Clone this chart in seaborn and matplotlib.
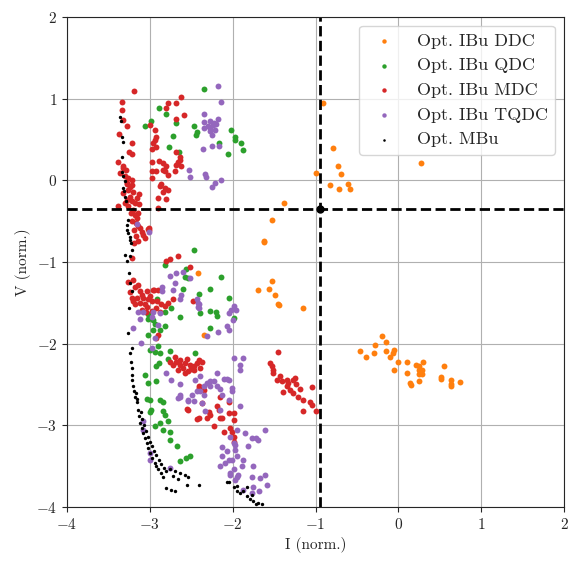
import matplotlib
matplotlib.use("Agg")
import matplotlib.pyplot as plt
import seaborn as sns
import pandas as pd

sns.set_style("ticks")
plt.rcParams['font.family'] = 'serif'
plt.rcParams['font.serif'] = ['cmr10']
plt.rcParams['mathtext.fontset'] = 'cm'
plt.rcParams['axes.formatter.use_mathtext'] = True
plt.rcParams['font.size'] = 11

# (I, V) pairs
ddc = [(-0.91, 0.95), (-0.79, 0.39), (-0.73, 0.18), (-0.69, 0.08), (-1.00, 0.09), (-0.83, -0.06),
       (-0.72, -0.11), (-0.61, -0.05), (-0.58, -0.11), (0.27, 0.205), (-1.38, -0.28), (-1.53, -0.485),
       (-1.62, -0.76), (-1.62, -0.74), (-1.53, -1.24), (-1.70, -1.35), (-1.56, -1.33), (-1.49, -1.40),
       (-1.45, -1.51), (-1.44, -1.53), (-1.15, -1.57), (-2.42, -1.13), (-2.35, -1.90),
       (-0.20, -1.905), (-0.15, -1.98), (-0.28, -2.02), (-0.46, -2.09), (-0.39, -2.16), (-0.30, -2.12),
       (-0.15, -2.09), (-0.05, -2.08), (-0.06, -2.12), (-0.10, -2.17), (-0.01, -2.23), (-0.05, -2.32),
       (0.10, -2.23), (0.11, -2.36), (0.14, -2.48), (0.15, -2.51), (0.21, -2.26), (0.25, -2.28),
       (0.30, -2.23), (0.25, -2.32), (0.25, -2.37), (0.29, -2.37), (0.25, -2.46), (0.29, -2.32),
       (0.545, -2.27), (0.51, -2.41), (0.51, -2.43), (0.63, -2.45), (0.63, -2.49), (0.63, -2.52),
       (0.75, -2.47)]

qdc = [(-2.35, 1.12), (-2.885, 0.89), (-2.99, 0.73), (-3.06, 0.665), (-2.80, 0.81), (-2.68, 0.70),
       (-2.72, 0.54), (-2.77, 0.41), (-2.65, 0.34), (-2.47, 0.665), (-2.43, 0.595), (-2.44, 0.555),
       (-2.16, 0.455), (-2.06, 0.32), (-2.02, 0.62), (-1.97, 0.535), (-1.97, 0.49), (-1.90, 0.46),
       (-1.87, 0.37),
       (-2.47, -0.85), (-2.82, -1.04), (-2.56, -1.09), (-2.57, -1.18), (-2.54, -1.20), (-2.14, -1.18),
       (-2.60, -1.33), (-2.41, -1.39), (-2.27, -1.33), (-2.04, -1.44), (-2.91, -1.46), (-2.74, -1.57),
       (-2.82, -1.61), (-2.39, -1.62), (-2.27, -1.60), (-2.20, -1.61), (-2.19, -1.66), (-2.64, -1.67),
       (-3.02, -1.64), (-3.02, -1.70), (-2.96, -1.71), (-2.94, -1.76), (-2.82, -1.78), (-2.88, -1.83),
       (-2.96, -1.83), (-3.02, -1.89), (-2.27, -1.81), (-1.99, -1.69), (-2.90, -2.03), (-3.00, -2.08),
       (-2.94, -2.10), (-2.88, -2.12), (-2.76, -2.09), (-2.46, -2.11), (-2.78, -2.19), (-2.89, -2.24),
       (-2.93, -2.27),
       (-3.06, -2.38), (-3.02, -2.48), (-2.92, -2.46), (-3.04, -2.68), (-3.00, -2.69), (-2.88, -2.69),
       (-2.84, -2.71), (-2.99, -2.81), (-3.00, -2.84), (-2.84, -2.83), (-2.82, -2.87), (-2.88, -2.97),
       (-2.94, -3.01), (-2.78, -2.95), (-2.84, -3.06), (-2.76, -3.08), (-2.76, -3.18), (-2.67, -3.25),
       (-2.64, -3.44), (-2.56, -3.40), (-2.52, -3.38)]

mdc = [(-3.19, 1.09), (-3.34, 0.96), (-3.34, 0.86), (-3.32, 0.74), (-3.27, 0.66), (-3.37, 0.57),
       (-3.22, 0.455), (-3.25, 0.34), (-3.21, 0.32), (-3.38, 0.22), (-3.33, 0.18), (-3.32, 0.15),
       (-3.36, 0.09), (-3.26, 0.025), (-3.22, 0.005), (-3.28, -0.035), (-3.24, -0.08), (-3.32, -0.16),
       (-3.20, -0.15), (-3.13, -0.17), (-3.28, -0.24), (-3.22, -0.26), (-3.18, -0.28), (-3.13, -0.29),
       (-3.39, -0.32), (-3.26, -0.32), (-3.20, -0.36), (-3.14, -0.40), (-3.15, -0.46), (-3.17, -0.525),
       (-3.12, -0.585), (-3.19, -0.61), (-3.08, -0.67), (-3.06, -0.71), (-3.01, -0.61), (-3.02, -0.60),
       (-3.19, -0.77), (-3.22, -0.95), (-3.27, -0.05), (-3.30, 0.05), (-3.24, -0.20), (-3.30, -0.28),
       (-3.18, -0.43), (-3.23, -0.40), (-3.29, 0.12), (-3.21, -0.06), (-3.26, -0.12), (-3.16, -0.22),
       (-3.21, -0.50), (-3.14, -0.56), (-3.10, -0.63), (-3.17, -0.68), (-3.14, -0.74),
       (-2.78, 0.95), (-2.80, 0.88), (-2.63, 1.02), (-2.68, 0.95), (-2.59, 0.80), (-2.68, 0.75),
       (-3.00, 0.68), (-2.94, 0.62), (-2.92, 0.535), (-2.94, 0.49), (-2.96, 0.455), (-2.92, 0.41),
       (-2.98, 0.38), (-2.68, 0.35), (-2.64, 0.29), (-2.97, 0.22), (-2.89, 0.23), (-2.84, 0.21),
       (-2.80, 0.17), (-2.64, 0.25), (-2.68, 0.19), (-2.63, 0.17), (-2.97, 0.11), (-2.92, 0.11),
       (-2.82, 0.11), (-2.78, 0.065), (-2.70, 0.11), (-2.97, 0.025), (-2.86, -0.045), (-2.82, -0.10),
       (-2.78, -0.12), (-2.84, -0.14), (-2.90, -0.22), (-2.80, -0.23), (-2.90, -0.34), (-3.01, -0.585),
       (-2.84, 0.13), (-2.88, -0.07), (-2.66, 0.22),
       (-2.76, -0.97), (-2.80, -0.995), (-2.66, -0.925), (-2.51, -1.06), (-2.72, -1.46), (-2.48, -1.48),
       (-2.93, -1.93), (-2.90, -1.89),
       (-3.20, -1.22), (-3.18, -1.31), (-3.24, -1.37), (-3.12, -1.36), (-3.03, -1.36), (-2.95, -1.34),
       (-2.90, -1.34), (-3.16, -1.44), (-3.08, -1.44), (-3.02, -1.46), (-3.12, -1.50), (-3.06, -1.52),
       (-2.98, -1.48), (-3.18, -1.52), (-3.05, -1.61), (-2.98, -1.60), (-2.92, -1.57), (-2.86, -1.52),
       (-2.82, -1.54), (-2.91, -1.48), (-3.22, -1.44), (-3.09, -1.59), (-2.88, -1.61), (-2.96, -1.34),
       (-3.14, -1.28), (-3.26, -1.25), (-3.10, -1.40), (-3.00, -1.42), (-3.20, -1.48), (-3.04, -1.55),
       (-2.78, -1.50),
       (-2.70, -2.16), (-2.64, -2.20), (-2.58, -2.24), (-2.51, -2.26), (-2.43, -2.24), (-2.37, -2.22),
       (-2.39, -2.30), (-2.47, -2.32), (-2.58, -2.36), (-2.66, -2.32), (-2.72, -2.26), (-2.76, -2.22),
       (-2.60, -2.30), (-2.54, -2.34), (-2.64, -2.26), (-2.68, -2.22), (-2.47, -2.28), (-2.41, -2.20),
       (-2.55, -2.19), (-2.50, -2.31),
       (-1.55, -2.24), (-1.45, -2.10), (-1.51, -2.32), (-1.43, -2.40), (-1.35, -2.44), (-1.27, -2.44),
       (-1.23, -2.50), (-1.31, -2.57), (-1.27, -2.61), (-1.21, -2.65), (-1.15, -2.69), (-1.045, -2.53),
       (-1.07, -2.71), (-1.045, -2.75), (-1.15, -2.83), (-0.99, -2.82), (-1.35, -2.52), (-1.39, -2.59),
       (-1.47, -2.44), (-1.51, -2.36), (-1.33, -2.48), (-1.25, -2.42), (-1.53, -2.28), (-1.41, -2.46),
       (-1.19, -2.56),
       (-2.15, -2.65), (-2.05, -2.71), (-1.99, -2.85), (-1.99, -2.93), (-2.03, -3.03), (-2.01, -3.08),
       (-1.99, -3.14), (-1.99, -3.20), (-2.11, -3.08), (-2.23, -3.01), (-2.27, -2.87), (-2.31, -2.91),
       (-2.15, -2.91), (-2.41, -2.91), (-2.54, -2.81), (-2.35, -2.57), (-2.41, -2.55), (-2.05, -2.85),
       (-2.19, -2.77), (-2.41, -2.52), (-2.37, -2.73), (-2.55, -2.80), (-2.43, -2.92), (-2.29, -2.84),
       (-2.16, -2.81), (-2.13, -2.91)]

tqdc = [(-2.18, 1.15), (-2.14, 0.96), (-2.35, 0.81), (-2.35, 0.71), (-2.27, 0.72), (-2.23, 0.70),
        (-2.18, 0.75), (-2.27, 0.64), (-2.35, 0.64), (-2.21, 0.62), (-2.27, 0.60), (-2.25, 0.555),
        (-2.25, 0.42), (-2.17, 0.42), (-2.36, 0.38), (-2.53, 0.13), (-2.52, 0.035), (-2.33, 0.08),
        (-2.32, 0.04), (-2.25, -0.08), (-2.21, -0.035), (-2.14, 0.0), (-2.24, 0.68), (-2.30, 0.66),
        (-2.20, 0.69), (-3.15, -0.54), (-3.01, -0.63),
        (-2.76, -1.17), (-2.68, -1.14), (-2.60, -1.12), (-2.52, -1.20), (-2.70, -1.26), (-2.85, -1.31),
        (-2.85, -1.36), (-2.72, -1.35), (-2.63, -1.41), (-2.64, -1.46), (-2.43, -1.46), (-2.41, -1.52),
        (-2.41, -1.57), (-3.14, -1.61), (-3.08, -1.61), (-2.96, -1.61), (-2.97, -1.67), (-2.88, -1.62),
        (-3.12, -1.70), (-3.20, -1.81), (-2.90, -1.77), (-3.11, -1.99), (-2.94, -1.93), (-2.97, -2.06),
        (-2.31, -1.91), (-2.18, -1.86), (-2.07, -1.79), (-2.05, -1.83), (-2.05, -1.62), (-2.02, -1.59),
        (-1.99, -1.54), (-1.96, -1.59), (-2.00, -1.71), (-2.42, -1.50), (-2.42, -1.55),
        (-1.98, -2.18), (-1.88, -2.18), (-1.91, -2.26), (-1.91, -2.32), (-2.19, -2.36), (-2.11, -2.43),
        (-2.04, -2.45), (-2.23, -2.46), (-2.31, -2.48), (-2.27, -2.52), (-2.19, -2.52), (-2.15, -2.56),
        (-2.35, -2.52), (-2.39, -2.58), (-2.43, -2.58), (-2.35, -2.63), (-2.49, -2.63), (-2.47, -2.70),
        (-2.64, -2.63), (-2.66, -2.67), (-2.54, -2.70), (-2.37, -2.73), (-2.33, -2.83), (-2.15, -2.81),
        (-2.01, -2.58), (-2.01, -2.54), (-2.13, -2.63), (-2.80, -2.36), (-2.75, -2.45), (-2.64, -2.50),
        (-2.64, -2.65), (-2.54, -2.69), (-2.27, -2.46), (-2.07, -2.43), (-2.05, -2.69), (-1.91, -2.77),
        (-3.08, -2.95), (-3.08, -3.06), (-3.00, -3.34), (-3.00, -3.42), (-2.76, -3.52), (-2.45, -2.45),
        (-2.40, -2.40),
        (-2.13, -3.27), (-2.13, -3.38), (-2.07, -3.32), (-2.15, -3.50), (-2.01, -3.42), (-1.97, -3.30),
        (-1.99, -3.22), (-1.95, -3.38), (-1.99, -3.54), (-2.03, -3.61), (-1.93, -3.61), (-1.97, -3.67),
        (-1.87, -3.42), (-1.85, -3.10), (-1.77, -3.16), (-1.69, -3.18), (-1.61, -3.06), (-1.81, -3.26),
        (-1.75, -3.50), (-1.67, -3.65), (-1.61, -3.61), (-1.87, -3.79), (-1.77, -3.63), (-1.75, -3.75),
        (-1.72, -3.16), (-1.58, -3.73), (-1.68, -3.81), (-1.77, -3.83), (-2.05, -3.42), (-2.03, -3.59),
        (-1.95, -3.63), (-1.89, -3.50), (-2.03, -3.14), (-1.95, -3.06), (-1.97, -3.24), (-2.09, -3.46)]

mbu = [(-3.36, 0.78), (-3.35, 0.72), (-3.34, 0.535), (-3.33, 0.47), (-3.34, 0.29), (-3.34, 0.095),
       (-3.32, 0.05), (-3.30, -0.015), (-3.32, -0.10), (-3.30, -0.20), (-3.31, -0.13), (-3.29, -0.25),
       (-3.26, -0.485), (-3.27, -0.55), (-3.27, -0.61), (-3.26, -0.65), (-3.24, -0.69), (-3.24, -0.73),
       (-3.23, -0.77), (-3.22, -0.85), (-3.30, -0.91), (-3.24, -0.93), (-3.27, -0.995), (-3.25, -1.14),
       (-3.24, -1.26), (-3.22, -1.36), (-3.25, -1.57), (-3.26, -1.87), (-3.22, -2.06), (-3.24, -2.12),
       (-3.23, -2.22), (-3.22, -2.30), (-3.22, -2.38), (-3.21, -2.45), (-3.20, -2.52), (-3.19, -2.58),
       (-3.18, -2.65), (-3.16, -2.72), (-3.14, -2.81), (-3.13, -2.89), (-3.12, -2.97), (-3.10, -3.03),
       (-3.08, -3.10), (-3.06, -3.16), (-3.04, -3.22), (-3.02, -3.28), (-3.00, -3.34), (-2.97, -3.40),
       (-2.94, -3.46), (-2.92, -3.50), (-2.90, -3.54), (-2.87, -3.58), (-2.84, -3.63),
       (-3.17, -2.60), (-3.15, -2.68), (-3.11, -2.84), (-3.09, -2.92), (-3.07, -3.00), (-3.05, -3.07),
       (-3.02, -3.14), (-3.00, -3.20), (-2.98, -3.26), (-2.95, -3.31), (-2.92, -3.37), (-2.89, -3.42),
       (-2.86, -3.47), (-2.83, -3.52), (-2.80, -3.56),
       (-2.76, -3.54), (-2.70, -3.56), (-2.64, -3.59), (-2.58, -3.61), (-2.54, -3.63), (-2.41, -3.73),
       (-2.55, -3.73), (-2.80, -3.77), (-2.75, -3.79), (-2.70, -3.81), (-2.66, -3.66), (-2.72, -3.62),
       (-2.07, -3.69), (-2.05, -3.70), (-1.99, -3.75), (-1.95, -3.74), (-1.91, -3.83), (-1.83, -3.87),
       (-1.83, -3.75), (-1.77, -3.85), (-1.75, -3.93), (-1.69, -3.95), (-1.65, -3.97), (-1.87, -3.80),
       (-1.79, -3.90), (-1.72, -3.96), (-1.95, -3.80)]

opt_point = (-0.95, -0.35)

series = [
    ("Opt. IBu DDC", ddc, "tab:orange", 18),
    ("Opt. IBu QDC", qdc, "tab:green", 18),
    ("Opt. IBu MDC", mdc, "tab:red", 18),
    ("Opt. IBu TQDC", tqdc, "tab:purple", 18),
    ("Opt. MBu", mbu, "black", 6),
]

fig, ax = plt.subplots(figsize=(5.68, 5.62), dpi=100)
fig.subplots_adjust(left=0.118, right=0.993, top=0.970, bottom=0.098)

for label, pts, color, size in series:
    df = pd.DataFrame(pts, columns=["I", "V"])
    sns.scatterplot(data=df, x="I", y="V", ax=ax, color=color, s=size,
                    linewidth=0, label=label)

ax.axvline(opt_point[0], color="black", linestyle="--", linewidth=2)
ax.axhline(opt_point[1], color="black", linestyle="--", linewidth=2)
ax.scatter([opt_point[0]], [opt_point[1]], color="black", s=25, zorder=5)

ax.set_xlim(-4, 2)
ax.set_ylim(-4, 2)
ax.set_xticks(range(-4, 3))
ax.set_yticks(range(-4, 3))
ax.grid(True, color="#b0b0b0", linewidth=0.8)
ax.set_axisbelow(True)
ax.set_xlabel("I (norm.)")
ax.set_ylabel("V (norm.)")
ax.legend(loc="upper right", fontsize=13, markerscale=0.75)

fig.savefig("out.png", dpi=100)
